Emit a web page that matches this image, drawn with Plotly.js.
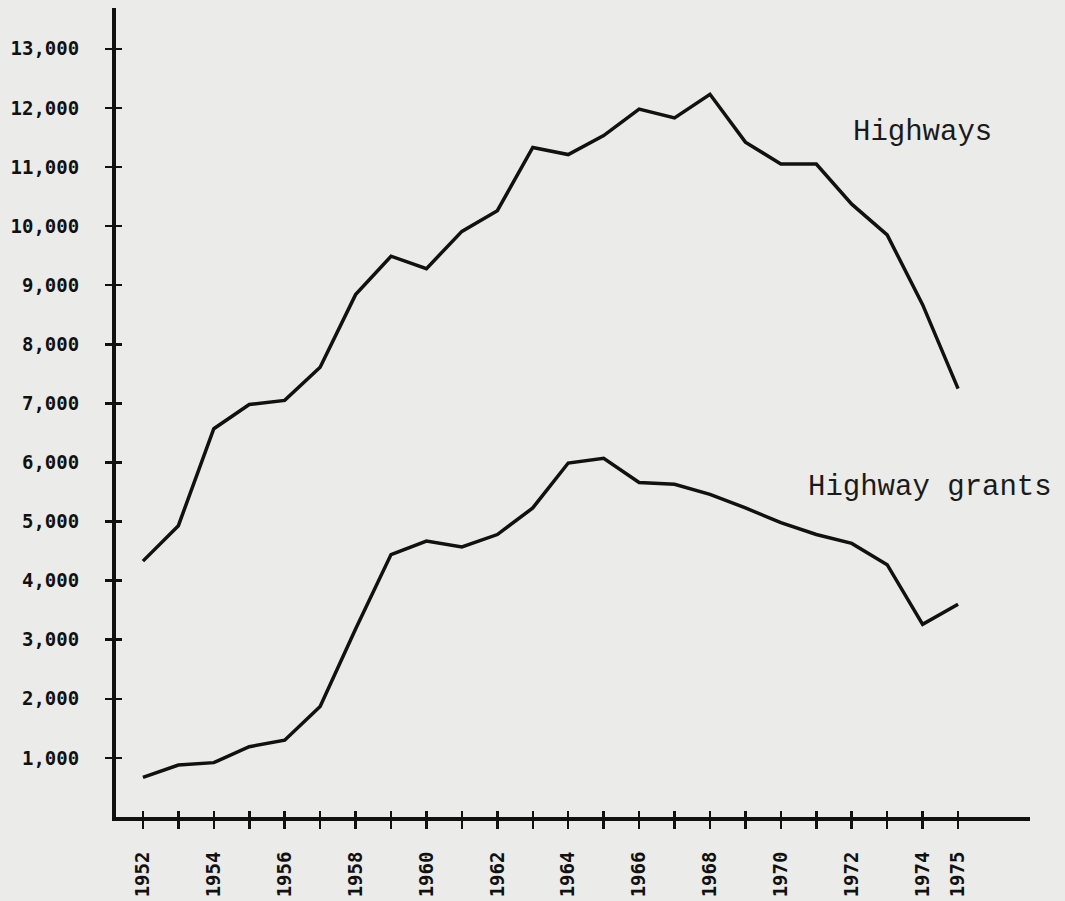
<!DOCTYPE html>
<html>
<head>
<meta charset="utf-8">
<script src="https://cdn.plot.ly/plotly-3.0.1.min.js"></script>
<style>
  html, body { margin: 0; padding: 0; background: #ebebe9; }
  #chart { width: 1065px; height: 901px; }
</style>
</head>
<body>
<div id="chart"></div>
<script>
// ---- data ----
const years = [1952,1953,1954,1955,1956,1957,1958,1959,1960,1961,1962,1963,
               1964,1965,1966,1967,1968,1969,1970,1971,1972,1973,1974,1975];
const highways = [4330,4930,6570,6980,7050,7610,8840,9490,9280,9910,10260,11330,
                  11210,11530,11980,11830,12230,11420,11050,11050,10370,9850,8670,7250];
const highwayGrants = [670,880,920,1190,1300,1870,3180,4440,4670,4570,4780,5230,
                       5990,6070,5660,5630,5460,5230,4980,4780,4630,4270,3260,3600];
const xTickLabels = ['1952','','1954','','1956','','1958','','1960','','1962','',
                     '1964','','1966','','1968','','1970','','1972','','1974','1975'];
const yTickVals = [1000,2000,3000,4000,5000,6000,7000,8000,9000,10000,11000,12000,13000];
const yTickLabels = ['1,000','2,000','3,000','4,000','5,000','6,000','7,000','8,000',
                     '9,000','10,000','11,000','12,000','13,000'];
const seriesNames = ['Highways', 'Highway grants'];

// ---- styling ----
const ink = '#111111';
const xRange = [1951.24, 1977.03];
const yRange = [0, 13690];
const tickFont = {family: 'DejaVu Sans Mono, monospace', size: 19, color: ink, weight: 'bold'};
const labelFont = {family: 'Liberation Mono, Courier New, monospace', size: 29, color: '#1a1a1a'};

const lineStyle = {color: ink, width: 3.5};

const traces = [
  {x: years, y: highways, type: 'scatter', mode: 'lines', name: seriesNames[0],
   line: lineStyle, hoverinfo: 'x+y'},
  {x: years, y: highwayGrants, type: 'scatter', mode: 'lines', name: seriesNames[1],
   line: lineStyle, hoverinfo: 'x+y'},
  // carrier for the inner half of the crossing tick marks
  {x: years, y: highways, type: 'scatter', mode: 'lines', xaxis: 'x2', yaxis: 'y2',
   line: {color: 'rgba(0,0,0,0)', width: 0}, hoverinfo: 'skip', showlegend: false}
];

const layout = {
  width: 1065, height: 901,
  paper_bgcolor: '#ebebe9', plot_bgcolor: 'rgba(0,0,0,0)',
  margin: {l: 116, r: 35, t: 8, b: 84},
  showlegend: false,
  xaxis: {
    range: xRange, tickmode: 'array', tickvals: years, ticktext: xTickLabels,
    tickangle: -90, ticks: 'outside', ticklen: 8, tickwidth: 2.5, tickcolor: ink,
    ticklabelstandoff: 15,
    showline: true, linecolor: ink, linewidth: 4, showgrid: false, zeroline: false,
    tickfont: tickFont
  },
  yaxis: {
    range: yRange, tickmode: 'array', tickvals: yTickVals, ticktext: yTickLabels,
    ticks: 'outside', ticklen: 7, tickwidth: 2.5, tickcolor: ink,
    ticklabelstandoff: 22,
    showline: true, linecolor: ink, linewidth: 4, showgrid: false, zeroline: false,
    tickfont: tickFont
  },
  xaxis2: {
    overlaying: 'x', range: xRange, tickmode: 'array', tickvals: years,
    ticks: 'inside', ticklen: 6, tickwidth: 2.5, tickcolor: ink, showticklabels: false,
    showline: false, showgrid: false, zeroline: false, side: 'bottom'
  },
  yaxis2: {
    overlaying: 'y', range: yRange, tickmode: 'array', tickvals: yTickVals,
    ticks: 'inside', ticklen: 6, tickwidth: 2.5, tickcolor: ink, showticklabels: false,
    showline: false, showgrid: false, zeroline: false, side: 'left'
  },
  annotations: [
    {text: seriesNames[0], xref: 'paper', yref: 'y', x: 0.882, y: 11590,
     showarrow: false, font: labelFont, xanchor: 'center', yanchor: 'middle'},
    {text: seriesNames[1], xref: 'paper', yref: 'y', x: 0.891, y: 5584,
     showarrow: false, font: labelFont, xanchor: 'center', yanchor: 'middle'}
  ]
};

Plotly.newPlot('chart', traces, layout, {staticPlot: true, displayModeBar: false});
</script>
</body>
</html>
